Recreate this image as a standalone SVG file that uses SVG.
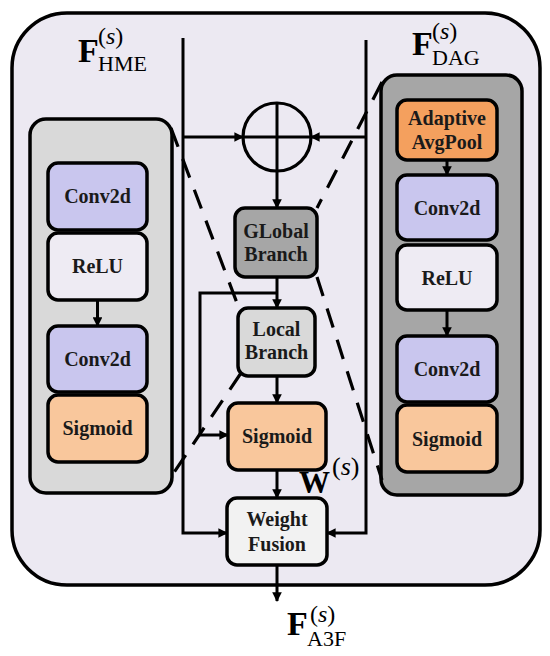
<svg xmlns="http://www.w3.org/2000/svg" width="550" height="656" viewBox="0 0 550 656">
<defs>
<marker id="ah" viewBox="0 0 10 10" refX="9" refY="5" markerWidth="3.2" markerHeight="3.2" orient="auto" markerUnits="strokeWidth">
<path d="M0,0 L10,5 L0,10 Z" fill="#000"/>
</marker>
</defs>
<style>
.box{stroke:#000;stroke-width:3.5}
.ln{fill:none;stroke:#000;stroke-width:3}
.arr{fill:none;stroke:#000;stroke-width:3;marker-end:url(#ah)}
.dash{fill:none;stroke:#000;stroke-width:3.2;stroke-dasharray:20 13}
.t{font-family:"Liberation Serif","Times New Roman",serif;font-weight:bold;font-size:20px;text-anchor:middle;fill:#1a1a1a}
.m{font-family:"Liberation Serif","Times New Roman",serif;fill:#000}
</style>
<rect x="12" y="13" width="528" height="572" rx="55" fill="#ece9f2" stroke="#000" stroke-width="3.5"/>

<g id="hme">
<rect class="box" x="30" y="119" width="142" height="374" rx="16" fill="#d9d9d9"/>
<g id="hme-conv1"><rect class="box" x="48" y="163" width="99" height="67" rx="10" fill="#c9c6ee"/><text class="t" x="97.5" y="203">Conv2d</text></g>
<g id="hme-relu"><rect class="box" x="48" y="233" width="99" height="67" rx="10" fill="#eeebf3"/><text class="t" x="97.5" y="273">ReLU</text></g>
<g id="hme-conv2"><rect class="box" x="48" y="326" width="99" height="66" rx="10" fill="#c9c6ee"/><text class="t" x="97.5" y="366">Conv2d</text></g>
<g id="hme-sig"><rect class="box" x="48" y="395" width="99" height="67" rx="10" fill="#f9c79c"/><text class="t" x="97.5" y="435">Sigmoid</text></g>
</g>

<g id="dag">
<rect class="box" x="381" y="75" width="141" height="420" rx="16" fill="#a6a6a6"/>
<g id="dag-pool"><rect class="box" x="397" y="100" width="100" height="60" rx="10" fill="#f4a05e"/><text class="t" x="447" y="125">Adaptive</text><text class="t" x="447" y="149">AvgPool</text></g>
<g id="dag-conv1"><rect class="box" x="397" y="175" width="100" height="65" rx="10" fill="#c9c6ee"/><text class="t" x="447" y="215">Conv2d</text></g>
<g id="dag-relu"><rect class="box" x="397" y="245" width="100" height="65" rx="10" fill="#eeebf3"/><text class="t" x="447" y="285">ReLU</text></g>
<g id="dag-conv2"><rect class="box" x="397" y="336" width="100" height="66" rx="10" fill="#c9c6ee"/><text class="t" x="447" y="376">Conv2d</text></g>
<g id="dag-sig"><rect class="box" x="397" y="405" width="100" height="67" rx="10" fill="#f9c79c"/><text class="t" x="447" y="446">Sigmoid</text></g>
</g>

<g id="connectors">
<line class="arr" x1="97.5" y1="300" x2="97.5" y2="326"/>
<line class="arr" x1="447" y1="160" x2="447" y2="175"/>
<line class="arr" x1="447" y1="310" x2="447" y2="336"/>
<polyline class="arr" points="183,38 183,533 227,533"/>
<polyline class="arr" points="366,40 366,533 327,533"/>
<line class="arr" x1="183" y1="137" x2="243" y2="137"/>
<line class="arr" x1="366" y1="137" x2="311" y2="137"/>
<line class="arr" x1="277" y1="171" x2="277" y2="208"/>
<line class="arr" x1="277" y1="277" x2="277" y2="308"/>
<polyline class="arr" points="277,293 200,293 200,435 228,435"/>
<line class="arr" x1="277" y1="376" x2="277" y2="403"/>
<line class="arr" x1="277" y1="470" x2="277" y2="498"/>
<line class="arr" x1="277" y1="565" x2="277" y2="601"/>
<line class="dash" x1="171" y1="128" x2="240" y2="311"/>
<line class="dash" x1="241" y1="373" x2="173" y2="474"/>
<line class="dash" x1="382" y1="82" x2="317" y2="208"/>
<line class="dash" x1="317" y1="277" x2="382" y2="480"/>
</g>

<g id="sum">
<circle cx="277" cy="137" r="34" fill="none" stroke="#000" stroke-width="3.2"/>
<line class="ln" x1="243" y1="137" x2="311" y2="137"/>
<line class="ln" x1="277" y1="103" x2="277" y2="171"/>
</g>

<g id="global"><rect class="box" x="235" y="208" width="82" height="69" rx="10" fill="#a6a6a6"/><text class="t" x="276" y="238">GLobal</text><text class="t" x="276" y="261">Branch</text></g>
<g id="local"><rect class="box" x="238" y="308" width="77" height="68" rx="10" fill="#d9d9d9"/><text class="t" x="276.5" y="336">Local</text><text class="t" x="276.5" y="359">Branch</text></g>
<g id="sigmoid"><rect class="box" x="228" y="403" width="98" height="67" rx="10" fill="#f9c79c"/><text class="t" x="277" y="443">Sigmoid</text></g>
<g id="fusion"><rect class="box" x="227" y="498" width="100" height="67" rx="10" fill="#f2f2f2"/><text class="t" x="277" y="526">Weight</text><text class="t" x="277" y="551">Fusion</text></g>

<g id="labels">
<text class="m" x="78" y="62" font-size="34" font-weight="bold">F</text>
<text class="m" x="98" y="44" font-size="24">(<tspan font-style="italic">s</tspan>)</text>
<text class="m" x="98" y="71" font-size="22">HME</text>
<text class="m" x="412" y="55" font-size="34" font-weight="bold">F</text>
<text class="m" x="432" y="39" font-size="24">(<tspan font-style="italic">s</tspan>)</text>
<text class="m" x="432" y="65" font-size="22">DAG</text>
<text class="m" x="299" y="493" font-size="31" font-weight="bold">W</text>
<text class="m" x="332" y="475" font-size="26">(<tspan font-style="italic">s</tspan>)</text>
<text class="m" x="287" y="635" font-size="34" font-weight="bold">F</text>
<text class="m" x="310" y="622" font-size="24">(<tspan font-style="italic">s</tspan>)</text>
<text class="m" x="307" y="646" font-size="22">A3F</text>
</g>
</svg>
